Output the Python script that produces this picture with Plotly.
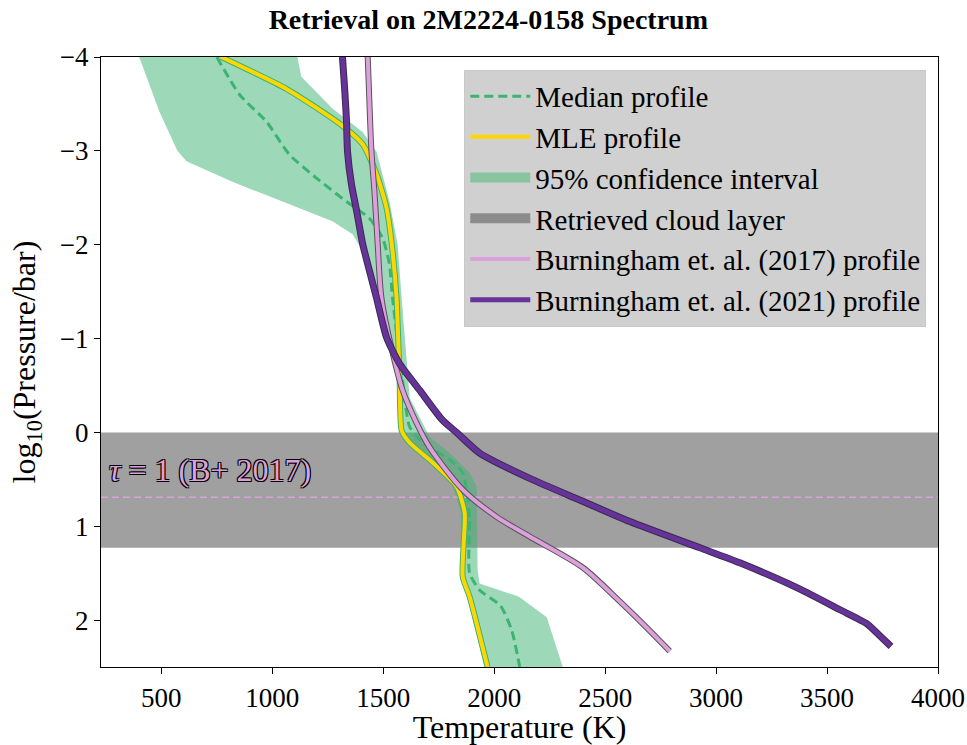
import plotly.graph_objects as go

# ---------------- data ----------------
# MLE profile
mle_T = [770, 1064, 1303, 1407, 1470, 1515, 1542, 1560, 1574, 1583, 1619, 1722, 1831, 1867, 1862, 1858, 1889, 1970]
mle_P = [-4.0, -3.66, -3.29, -3.07, -2.75, -2.39, -1.93, -1.43, -0.55, -0.02, 0.11, 0.32, 0.58, 0.86, 1.2, 1.54, 1.75, 2.5]

# Median profile
med_T = [750, 852, 974, 1077, 1199, 1334, 1438, 1497, 1528, 1542, 1587, 1619, 1677, 1799, 1858, 1880, 1889, 1889, 1934, 2029, 2079, 2115]
med_P = [-4.0, -3.60, -3.31, -2.96, -2.71, -2.46, -2.28, -2.07, -1.79, -1.43, -0.55, -0.06, 0.11, 0.29, 0.43, 0.69, 0.93, 1.50, 1.68, 1.85, 2.11, 2.5]

# 95% confidence interval boundaries
ci_lo_T = [400, 491, 572, 613, 820, 1046, 1271, 1362, 1407, 1438, 1520, 1555, 1568, 1575, 1610, 1700, 1810, 1850, 1850, 1880, 1957]
ci_lo_P = [-4.0, -3.42, -3.0, -2.89, -2.67, -2.46, -2.25, -2.11, -1.93, -1.6, -1.2, -0.8, -0.4, -0.05, 0.1, 0.3, 0.55, 0.85, 1.5, 1.75, 2.5]
ci_hi_T = [1113, 1131, 1271, 1407, 1470, 1528, 1565, 1583, 1619, 1709, 1799, 1889, 1921, 1925, 1934, 2110, 2237, 2309]
ci_hi_P = [-4.0, -3.79, -3.45, -3.20, -2.99, -2.46, -2.0, -1.43, -0.37, 0.05, 0.22, 0.43, 0.58, 1.46, 1.61, 1.75, 1.97, 2.5]

# Burningham et al. (2017)
b17_T = [1430, 1438, 1447, 1461, 1474, 1492, 1537, 1587, 1650, 1709, 1858, 2011, 2160, 2399, 2561, 2670, 2791]
b17_P = [-4.0, -3.49, -2.99, -2.54, -2.04, -1.43, -0.90, -0.45, -0.10, 0.16, 0.61, 0.90, 1.11, 1.44, 1.79, 2.04, 2.33]

# Burningham et al. (2021)
b21_T = [1316, 1325, 1334, 1339, 1357, 1380, 1407, 1438, 1470, 1515, 1574, 1664, 1767, 1830, 1934, 2160, 2385, 2611, 2927, 3107, 3378, 3558, 3680, 3739, 3788]
b21_P = [-4.0, -3.70, -3.34, -2.99, -2.64, -2.36, -2.01, -1.72, -1.43, -1.01, -0.73, -0.45, -0.13, 0.0, 0.22, 0.49, 0.72, 0.95, 1.23, 1.39, 1.67, 1.89, 2.04, 2.17, 2.28]

# Retrieved cloud layer (log P) and tau=1 level of B+2017
cloud_top = 0.0
cloud_base = 1.23
tau1_P = 0.69
tau1_label_P = 0.40

x_range = [228, 4000]
y_range = [2.5, -4]
x_ticks = [500, 1000, 1500, 2000, 2500, 3000, 3500, 4000]
y_ticks = [-4, -3, -2, -1, 0, 1, 2]

FONT = "Liberation Serif"
GREEN = "#3cb371"
CI_FILL = "rgba(60,179,113,0.5)"
CLOUD_FILL = "rgba(128,128,128,0.75)"

fig = go.Figure()

# cloud layer
fig.add_trace(go.Scatter(
    x=[x_range[0], x_range[1], x_range[1], x_range[0], x_range[0]],
    y=[cloud_top, cloud_top, cloud_base, cloud_base, cloud_top],
    fill="toself", fillcolor=CLOUD_FILL, mode="lines",
    line=dict(width=0), showlegend=False, hoverinfo="skip"))

# confidence interval
fig.add_trace(go.Scatter(
    x=ci_lo_T + ci_hi_T[::-1], y=ci_lo_P + ci_hi_P[::-1],
    fill="toself", fillcolor=CI_FILL, mode="lines",
    line=dict(width=0), showlegend=False))

# tau = 1 line
fig.add_trace(go.Scatter(
    x=x_range, y=[tau1_P, tau1_P], mode="lines",
    line=dict(color="#dda0dd", width=1.5, dash="7px,4px"), showlegend=False))

# median
fig.add_trace(go.Scatter(
    x=med_T, y=med_P, mode="lines", name="Median profile", legendrank=1,
    line=dict(color=GREEN, width=3, dash="9px,5px", shape="spline", smoothing=0.6)))

# MLE (outline + line)
fig.add_trace(go.Scatter(
    x=mle_T, y=mle_P, mode="lines", showlegend=False,
    line=dict(color=GREEN, width=6, shape="spline", smoothing=0.6)))
fig.add_trace(go.Scatter(
    x=mle_T, y=mle_P, mode="lines", name="MLE profile", legendrank=2,
    line=dict(color="#ffd700", width=4, shape="spline", smoothing=0.6)))

# legend-only entries for the filled regions
fig.add_trace(go.Scatter(
    x=[None], y=[None], mode="lines", name="95% confidence interval", legendrank=3,
    line=dict(color="#88c4a0", width=18)))
fig.add_trace(go.Scatter(
    x=[None], y=[None], mode="lines", name="Retrieved cloud layer", legendrank=4,
    line=dict(color="#8c8c8c", width=18)))

# Burningham 2017
fig.add_trace(go.Scatter(
    x=b17_T, y=b17_P, mode="lines", showlegend=False,
    line=dict(color="#555555", width=6, shape="spline", smoothing=0.8)))
fig.add_trace(go.Scatter(
    x=b17_T, y=b17_P, mode="lines", name="Burningham et. al. (2017) profile", legendrank=5,
    line=dict(color="#dda0dd", width=4, shape="spline", smoothing=0.8)))

# Burningham 2021
fig.add_trace(go.Scatter(
    x=b21_T, y=b21_P, mode="lines", showlegend=False,
    line=dict(color="#3a2a50", width=7, shape="spline", smoothing=0.6)))
fig.add_trace(go.Scatter(
    x=b21_T, y=b21_P, mode="lines", name="Burningham et. al. (2021) profile", legendrank=6,
    line=dict(color="#663399", width=5, shape="spline", smoothing=0.6)))

fig.add_annotation(
    x=x_range[0], y=tau1_label_P, xref="x", yref="y", xanchor="left", yanchor="middle",
    xshift=6, showarrow=False,
    text="<i>τ</i> = 1 (B+ 2017)",
    font=dict(family=FONT, size=32, color="#dda0dd",
              shadow="1px 1px 0 #000, -1px -1px 0 #000, 1px -1px 0 #000, -1px 1px 0 #000"))

axis_common = dict(
    showline=True, linecolor="black", linewidth=1.3, mirror=True,
    ticks="outside", ticklen=6, tickwidth=1.3, tickcolor="black",
    showgrid=False, zeroline=False, automargin=False,
    tickfont=dict(family=FONT, size=27, color="black"),
)

fig.update_xaxes(range=x_range, tickvals=x_ticks, **axis_common,
                 title=dict(text="Temperature (K)", font=dict(family=FONT, size=32, color="black"), standoff=10))
fig.update_yaxes(range=y_range, tickvals=y_ticks, **axis_common,
                 title=dict(text="log<sub>10</sub>(Pressure/bar)", font=dict(family=FONT, size=32, color="black"), standoff=14))

fig.update_layout(
    width=967, height=745,
    margin=dict(l=101, r=29, t=57, b=78, autoexpand=False),
    paper_bgcolor="white", plot_bgcolor="white",
    title=dict(text="<b>Retrieval on 2M2224-0158 Spectrum</b>", x=0.505, xanchor="center",
               y=1 - 19 / 745, yanchor="middle", yref="container",
               font=dict(family=FONT, size=28, color="black")),
    legend=dict(x=0.986, y=0.979, xanchor="right", yanchor="top",
                bgcolor="#d0d0d0", bordercolor="#c8c8c8", borderwidth=1,
                font=dict(family=FONT, size=29, color="black"),
                itemwidth=60, traceorder="normal"),
    showlegend=True,
)

# remove the default page margin so the figure fills the window exactly
fig.write_html("out.html",
               config={"displayModeBar": False},
               post_script="document.body.style.margin='0px';document.body.style.overflow='hidden';")
